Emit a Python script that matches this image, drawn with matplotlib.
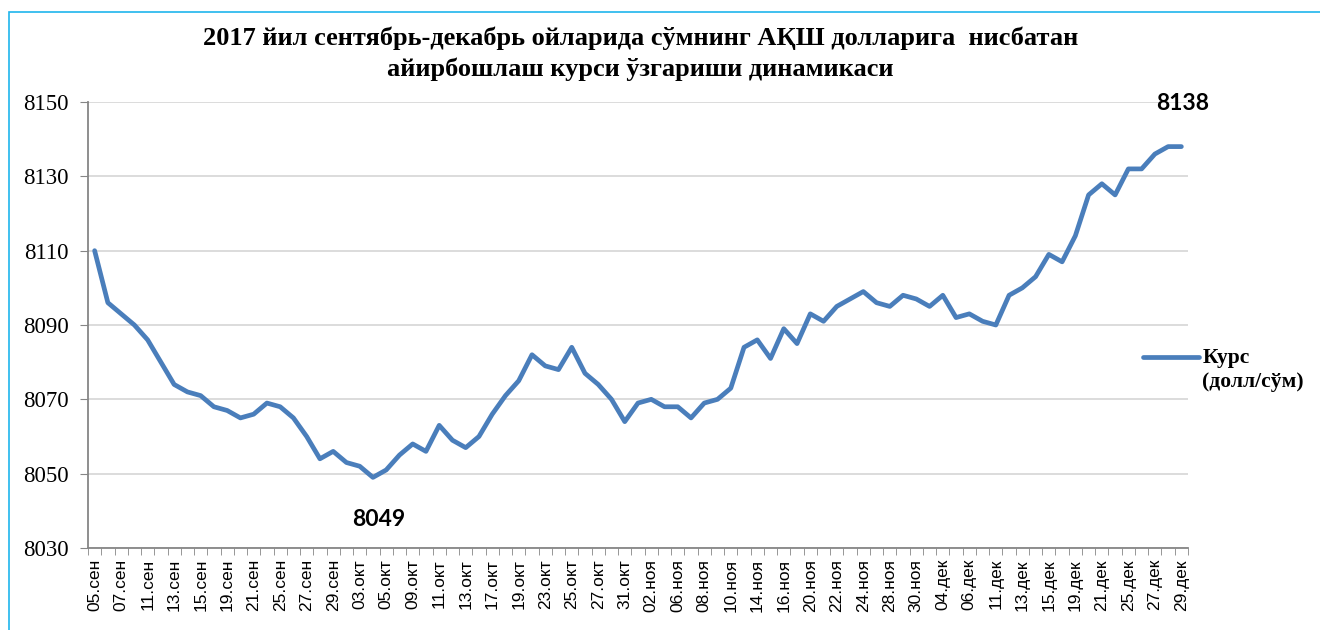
import matplotlib.pyplot as plt
from matplotlib.patches import Rectangle

# trading days, sep-dec 2017
dates = [
    '05.сен', '06.сен', '07.сен', '08.сен', '11.сен', '12.сен', '13.сен', '14.сен', '15.сен', '18.сен',
    '19.сен', '20.сен', '21.сен', '22.сен', '25.сен', '26.сен', '27.сен', '28.сен', '29.сен',
    '02.окт', '03.окт', '04.окт', '05.окт', '06.окт', '09.окт', '10.окт', '11.окт', '12.окт', '13.окт',
    '16.окт', '17.окт', '18.окт', '19.окт', '20.окт', '23.окт', '24.окт', '25.окт', '26.окт', '27.окт',
    '30.окт', '31.окт',
    '01.ноя', '02.ноя', '03.ноя', '06.ноя', '07.ноя', '08.ноя', '09.ноя', '10.ноя', '13.ноя', '14.ноя',
    '15.ноя', '16.ноя', '17.ноя', '20.ноя', '21.ноя', '22.ноя', '23.ноя', '24.ноя', '27.ноя', '28.ноя',
    '29.ноя', '30.ноя',
    '01.дек', '04.дек', '05.дек', '06.дек', '07.дек', '11.дек', '12.дек', '13.дек', '14.дек', '15.дек',
    '18.дек', '19.дек', '20.дек', '21.дек', '22.дек', '25.дек', '26.дек', '27.дек', '28.дек', '29.дек',
]

# сўм per USD
rate = [
    8110, 8096, 8093, 8090, 8086, 8080, 8074, 8072, 8071, 8068,
    8067, 8065, 8066, 8069, 8068, 8065, 8060, 8054, 8056,
    8053, 8052, 8049, 8051, 8055, 8058, 8056, 8063, 8059, 8057,
    8060, 8066, 8071, 8075, 8082, 8079, 8078, 8084, 8077, 8074,
    8070, 8064,
    8069, 8070, 8068, 8068, 8065, 8069, 8070, 8073, 8084, 8086,
    8081, 8089, 8085, 8093, 8091, 8095, 8097, 8099, 8096, 8095,
    8098, 8097,
    8095, 8098, 8092, 8093, 8091, 8090, 8098, 8100, 8103, 8109,
    8107, 8114, 8125, 8128, 8125, 8132, 8132, 8136, 8138, 8138,
]

title = ('2017 йил сентябрь-декабрь ойларида сўмнинг АҚШ долларига  нисбатан\n'
         'айирбошлаш курси ўзгариши динамикаси')

fig = plt.figure(figsize=(13.2, 6.3), dpi=100)
ax = fig.add_axes([88 / 1320, 1 - 548 / 630, 1100 / 1320, 446 / 630])

x = list(range(len(dates)))
ax.plot(x, rate, color='#4A7EBB', lw=3.4, solid_capstyle='round',
        label='Курс\n(долл/сўм)')

ax.set_xlim(-0.5, len(dates) - 0.5)
ax.set_ylim(8030, 8150)
ax.set_yticks(range(8030, 8151, 20))

# labels on every other day, tick marks between every category
ax.set_xticks(x[::2])
ax.set_xticklabels(dates[::2], rotation=90, fontsize=12.5, family='Liberation Sans')
ax.set_xticks([i - 0.5 for i in range(len(dates) + 1)], minor=True)
ax.tick_params(axis='x', which='major', length=0, pad=8)
ax.tick_params(axis='x', which='minor', length=5, color='#868686', direction='out')
ax.tick_params(axis='y', length=6, color='#868686', labelsize=16.5, pad=8)
for lab in ax.get_yticklabels():
    lab.set_family('Liberation Serif')

ax.grid(axis='y', color='#D9D9D9', lw=1.3)
ax.set_axisbelow(True)
for s in ['top', 'right']:
    ax.spines[s].set_visible(False)
for s in ['left', 'bottom']:
    ax.spines[s].set_color('#868686')
    ax.spines[s].set_linewidth(1.3)

# min / max callouts
imin = rate.index(min(rate))
imax = len(rate) - 1
ax.annotate(str(min(rate)), (imin, min(rate)), xytext=(4, -30), textcoords='offset points',
            ha='center', va='center', fontsize=16.5, fontweight='bold', family='Lato')
ax.annotate(str(rate[imax]), (imax, rate[imax]), xytext=(1, 31), textcoords='offset points',
            ha='center', va='center', fontsize=16.5, fontweight='bold', family='Lato')

leg = ax.legend(loc='center left', bbox_to_anchor=(1143 / 1320, 1 - 370 / 630),
                bbox_transform=fig.transFigure, frameon=False, handlelength=2.6,
                handletextpad=0.15, borderpad=0, borderaxespad=0,
                prop={'family': 'Liberation Serif', 'weight': 'bold', 'size': 15.5})
# lift the legend line to the first text line, as in the original
legline = leg.get_lines()[0]
legline.set_ydata([v + 9.5 for v in legline.get_ydata()])

fig.suptitle(title, x=0.485, y=1 - 26 / 630, va='top', fontsize=19, fontweight='bold',
             family='Liberation Serif', linespacing=1.45)

# light blue frame of the original chart object
fig.patches.append(Rectangle((9 / 1320, -0.05), 1.1, 1 - 12 / 630 + 0.05,
                             transform=fig.transFigure, fill=False,
                             edgecolor='#1FB5EC', lw=1.2))

fig.savefig('out.png', dpi=100)
